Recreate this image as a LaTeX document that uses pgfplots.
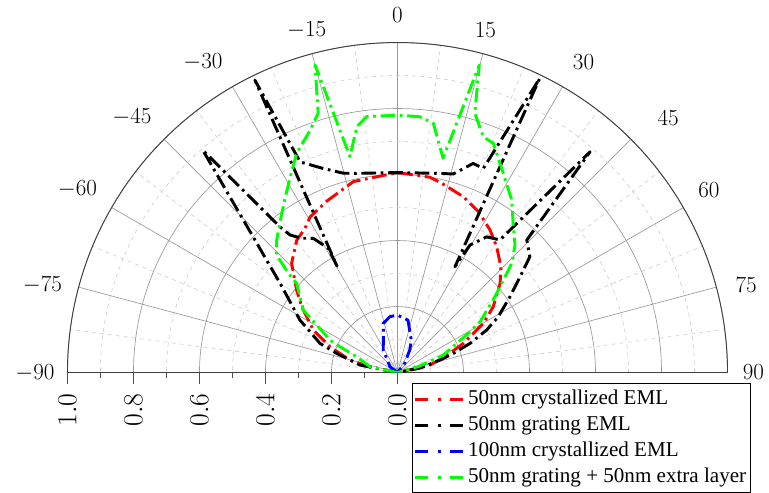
\documentclass[border=0pt]{standalone}
\usepackage{pgfplots}
\usepackage{pgfplotstable}
\pgfplotsset{compat=1.18}
\usepgfplotslibrary{polar}
\usepackage{fontspec}
\setmainfont{Liberation Serif}

\definecolor{pgreen}{RGB}{0,255,0}

\pgfplotstableread{
t r
-90 0
-78.1 0.085
-75.3 0.149
-69.1 0.219
-63.2 0.286
-55.5 0.352
-50.7 0.395
-44.1 0.461
-37.3 0.504
-32.7 0.519
-29.3 0.541
-22.4 0.562
-13.0 0.594
0 0.606
9.4 0.600
13.2 0.589
20.5 0.569
26.7 0.546
33.0 0.515
38.3 0.485
44.4 0.448
49.0 0.412
55.5 0.352
60.2 0.300
66.1 0.218
71.6 0.152
77.0 0.101
90 0
}\redtab

\pgfplotstableread{
t r
-90 0
-78.7 0.116
-72.5 0.193
-69.4 0.251
-65.0 0.292
-61.7 0.336
-56.6 0.390
-52.7 0.448
-41.2 0.896
-38.9 0.568
-38.0 0.529
-35.5 0.500
-32.1 0.480
-29.1 0.431
-29.6 0.371
-26.0 0.986
-24.8 0.703
-20.0 0.658
-15.2 0.626
-12.0 0.617
0 0.606
12.0 0.617
15.7 0.625
19.9 0.674
22.8 0.671
25.8 0.990
28.5 0.365
29.6 0.444
33.3 0.492
37.7 0.508
38.3 0.550
41.1 0.888
44.3 0.561
48.8 0.533
51.4 0.482
56.0 0.411
61.0 0.349
64.5 0.299
68.1 0.237
71.0 0.179
73.6 0.134
78.7 0.070
90 0
}\blacktab

\pgfplotstableread{
t r
-90 0
-52 0.029
-32.3 0.081
-23.6 0.107
-17.2 0.145
-16.1 0.155
-7.7 0.171
0 0.174
11.3 0.162
23.0 0.107
28.5 0.078
38.0 0.035
90 0
}\bluetab

\pgfplotstableread{
t r
-90 0
-78.1 0.085
-68.8 0.133
-65.8 0.191
-64.3 0.227
-56.4 0.343
-48.5 0.408
-47.7 0.447
-45.8 0.511
-42.4 0.543
-37.9 0.579
-32.9 0.628
-27.8 0.688
-24.7 0.731
-19.8 0.781
-17.0 0.822
-15.0 0.965
-12.4 0.670
-9.4 0.755
-6.9 0.781
0 0.780
5.0 0.778
8.2 0.763
12.0 0.664
14.9 0.964
16.6 0.820
20.0 0.760
22.7 0.753
28.0 0.683
33.5 0.627
38.5 0.564
42.7 0.525
46.3 0.479
52.1 0.374
58.4 0.294
61.0 0.245
69.1 0.149
74.0 0.065
90 0
}\greentab

\begin{document}
\begin{tikzpicture}
\begin{polaraxis}[
  name=ax,
  scale only axis,
  width=495pt,
  xmin=0, xmax=180, ymin=0, ymax=1,
  xtick={0,15,...,180},
  minor x tick num=1,
  ytick={0,0.2,0.4,0.6,0.8,1.0},
  minor y tick num=1,
  xticklabels={},
  yticklabels={},
  grid=both,
  major grid style={draw=black!40, line width=0.5pt},
  minor grid style={draw=black!22, dashed, line width=0.4pt},
  axis line style={draw=black!75, line width=0.7pt},
  tick style={draw=none},
  legend cell align=left,
  legend style={at={(0.5,0)}, anchor=north west, xshift=10.9pt, yshift=-7.9pt,
    font=\fontsize{15.8}{19}\selectfont, draw=black, line width=0.6pt,
    inner xsep=1pt, inner ysep=2pt, row sep=0pt,
    nodes={inner sep=2.5pt, text height=11pt, text depth=3.5pt}},
  legend image code/.code={\draw[#1, dash pattern=on 9.75pt off 7.5pt on 2.25pt off 6.75pt] (0pt,0pt) -- (36pt,0pt);},
  every axis plot/.append style={line width=2.2pt, line join=round,
    dash pattern=on 11pt off 3.5pt on 2pt off 3.5pt},
]
\coordinate (C) at (axis cs:0,0);
\addplot[red] table[x expr={90-\thisrow{t}}, y=r] {\redtab};
\addlegendentry{50nm crystallized EML}
\addplot[black] table[x expr={90-\thisrow{t}}, y=r] {\blacktab};
\addlegendentry{50nm grating EML}
\addplot[blue] table[x expr={90-\thisrow{t}}, y=r] {\bluetab};
\addlegendentry{100nm crystallized EML}
\addplot[pgreen] table[x expr={90-\thisrow{t}}, y=r] {\greentab};
\addlegendentry{50nm grating + 50nm extra layer}
\end{polaraxis}
% angle labels around the arc
\foreach \l/\dx/\dy in {0/0/268.1, 15/66/256.9, -15/-68.1/256.9, 30/139.5/232.5, -30/-145.9/232.5,
  45/203/190.9, -45/-199.1/191.3, 60/233.6/136.9, -60/-240/138, 75/261.4/65.6, -75/-266.3/65.6,
  90/266.9/0, -90/-271.9/0}{
  \node[inner sep=0pt, font=\fontsize{18.5}{18.5}\selectfont] at ([shift={(\dx pt,\dy pt)}]C) {$\l$};
}
% radial scale along the left baseline
\foreach \r/\l in {0/0.0,0.2/0.2,0.4/0.4,0.6/0.6,0.8/0.8,1.0/1.0}{
  \draw[black!70, line width=0.6pt] ([xshift={-\r*247.5pt}]C) -- ++(0,-8.5pt);
  \node[rotate=90, anchor=east, inner sep=0pt, font=\fontsize{22}{22}\selectfont]
    at ([shift={({-\r*247.5pt},-15.4pt)}]C) {$\l$};
}
\foreach \r in {0.1,0.3,0.5,0.7,0.9}{
  \draw[black!70, line width=0.6pt] ([xshift={-\r*247.5pt}]C) -- ++(0,-4.3pt);
}
\pgfresetboundingbox
\path ([shift={(-298.1pt,-89.6pt)}]C) rectangle ([shift={(278.6pt,279.4pt)}]C);
\end{tikzpicture}
\end{document}
